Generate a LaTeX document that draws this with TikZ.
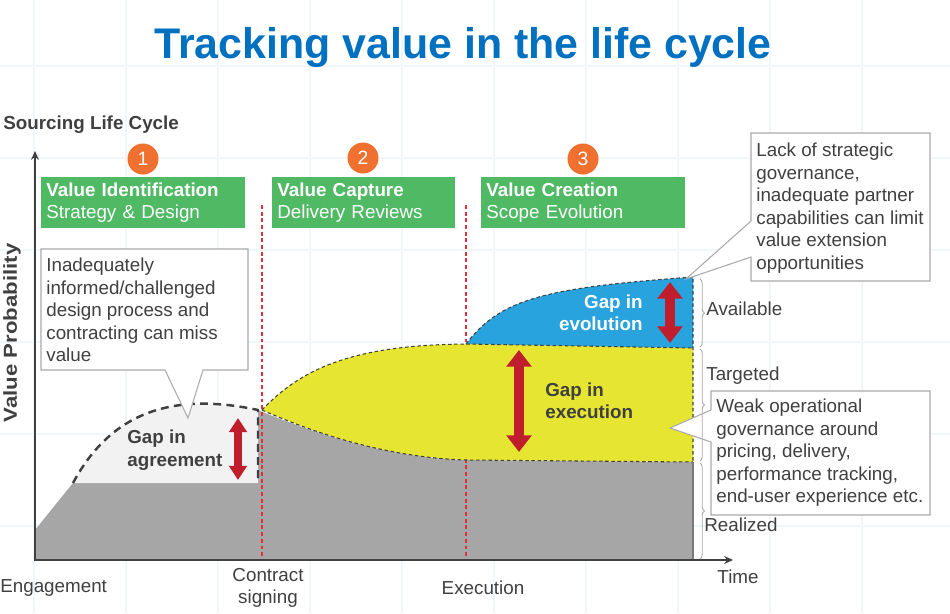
\documentclass[tikz,border=0pt]{standalone}
\usepackage{fontspec}
\setmainfont{Liberation Sans}
\usepackage{xcolor}
\usepackage{tikz}
\usetikzlibrary{arrows.meta}
\usetikzlibrary{decorations.pathreplacing}
\usetikzlibrary{positioning}

\definecolor{titleblue}{RGB}{0,112,192}
\definecolor{textgray}{RGB}{64,64,64}
\definecolor{gridblue}{RGB}{243,246,249}
\definecolor{phasegreen}{RGB}{80,185,100}
\definecolor{dotorange}{RGB}{240,112,48}
\definecolor{realgray}{RGB}{166,166,166}
\definecolor{misslight}{RGB}{242,242,242}
\definecolor{execyellow}{RGB}{230,230,50}
\definecolor{evolblue}{RGB}{41,163,221}
\definecolor{gapred}{RGB}{192,30,45}
\definecolor{milered}{RGB}{220,50,60}
\definecolor{boxgray}{RGB}{170,170,170}

\tikzset{
  txt/.style={font=\fontsize{10.7}{12.8}\selectfont, text=textgray, inner sep=0pt, align=left},
  gaplabel/.style={font=\fontsize{10.7}{12.8}\selectfont\bfseries, text=textgray, inner sep=0pt, align=left},
  phase/.style={fill=phasegreen, text=white, font=\fontsize{10.7}{12.8}\selectfont, align=left,
    inner xsep=0.1cm, inner ysep=0pt, minimum height=1.02cm, anchor=north west},
  numdot/.style={circle, fill=dotorange, text=white, font=\fontsize{11}{12}\selectfont,
    minimum size=0.62cm, inner sep=0pt},
  callout/.style={fill=white, draw=boxgray, line width=0.6pt, line join=miter},
  milestone/.style={draw=milered, line width=0.6pt, dash pattern=on 2.2pt off 1.6pt},
  edge/.style={draw=textgray, line width=0.6pt, dash pattern=on 2pt off 1.5pt},
  bigarrow/.style={draw=gapred, line width=5.6pt, arrows={Triangle[width=14pt,length=9.5pt]-Triangle[width=14pt,length=9.5pt]}},
  smallarrow/.style={draw=gapred, line width=4pt, arrows={Triangle[width=9.8pt,length=8pt]-Triangle[width=9.8pt,length=8pt]}},
  valuebrace/.style={draw=boxgray, line width=0.5pt, decorate, decoration={brace, amplitude=2.5pt}}
}

\begin{document}
\begin{tikzpicture}[x=0.02cm,y=-0.02cm]
  \useasboundingbox (0,0) rectangle (950,613);
  \fill[white] (0,0) rectangle (950,613);
  % faint background grid
  \foreach \gx in {34,126,...,954} \draw[gridblue,line width=1pt] (\gx,0) -- (\gx,613);
  \foreach \gy in {66,158,...,618} \draw[gridblue,line width=1pt] (0,\gy) -- (950,\gy);

  \node[font=\fontsize{24.4}{28}\selectfont\bfseries, text=titleblue] (title) at (463,48) {Tracking value in the life cycle};
  \node[gaplabel, anchor=west] (cycle) at (3,125) {Sourcing Life Cycle};
  \node[gaplabel, rotate=90] (probability) at (12,333) {\scalebox{1.18}[1]{Value Probability}};

  % value areas
  \fill[realgray] (35,560) -- (35,530) -- (73,483) -- (258,483) -- (258,410)
    .. controls (330,440) and (400,458) .. (466,460) -- (693,462) -- (693,560) -- cycle;
  \fill[misslight] (73,483) .. controls (108,418) and (165,390) .. (258,410) -- (258,483) -- cycle;
  \draw[milestone] (262,205) -- (262,560);
  \draw[milestone] (466,205) -- (466,560);
  \fill[execyellow] (262,410) .. controls (300,370) and (350,345) .. (466,344) -- (693,348)
    -- (693,462) -- (466,460) .. controls (400,458) and (330,440) .. (262,410) -- cycle;
  \fill[evolblue] (466,344) .. controls (500,300) and (540,288) .. (693,277) -- (693,348) -- cycle;
  \draw[edge] (262,410) .. controls (300,370) and (350,345) .. (466,344) -- (693,348);
  \draw[edge] (262,410) .. controls (330,440) and (400,458) .. (466,460) -- (693,462);
  \draw[edge] (466,344) .. controls (500,300) and (540,288) .. (693,277) -- (693,462);
  \draw[textgray, line width=1.4pt, dash pattern=on 4.5pt off 3pt] (73,483) .. controls (108,418) and (165,390) .. (258,410) -- (258,483);
  \draw[textgray!70, line width=0.8pt] (693,462) -- (693,560);

  % axes
  \draw[textgray, line width=1.4pt, -{Stealth[length=5pt,width=4.5pt]}] (35,561) -- (35,151);
  \draw[textgray, line width=1.4pt, -{Stealth[length=5pt,width=4.5pt]}] (34,560) -- (733,560);

  % phases
  \node[numdot] (dot1) at (143,159) {1};
  \node[numdot] (dot2) at (363,158) {2};
  \node[numdot] (dot3) at (583,159) {3};
  \node[phase, minimum width=4.08cm, text width=3.88cm] (identify) at (41,177) {\textbf{Value Identification}\\Strategy \& Design};
  \node[phase, minimum width=3.66cm, text width=3.46cm] (capture) at (272,177) {\textbf{Value Capture}\\Delivery Reviews};
  \node[phase, minimum width=4.08cm, text width=3.88cm] (create) at (481,177) {\textbf{Value Creation}\\Scope Evolution};

  % gaps
  \draw[smallarrow] (238,418) -- (238,480);
  \draw[bigarrow] (519,350) -- (519,452);
  \draw[bigarrow] (670,282) -- (670,343);
  \node[gaplabel, anchor=west] (agreegap) at (127,450) {Gap in\\agreement};
  \node[gaplabel, anchor=west] (execgap) at (545,401) {Gap in\\execution};
  \node[gaplabel, anchor=east, align=right, text=white] (evolgap) at (643,313) {Gap in\\evolution};

  % callouts
  \filldraw[callout] (41,249) -- (248,249) -- (248,370) -- (203,370) -- (188,418) -- (165,370) -- (41,370) -- cycle;
  \node[txt, anchor=north west] (missnote) at (46,258) {Inadequately\\informed/challenged\\design process and\\contracting can miss\\value};
  \filldraw[callout] (751,133) -- (930,133) -- (930,281) -- (751,281) -- (751,257) -- (686,279) -- (751,221) -- cycle;
  \node[txt, anchor=north west] (limitnote) at (756,143) {Lack of strategic\\governance,\\inadequate partner\\capabilities can limit\\value extension\\opportunities};
  \filldraw[callout] (711,391) -- (930,391) -- (930,515) -- (711,515) -- (711,442) -- (670,428) -- (711,410) -- cycle;
  \node[txt, anchor=north west] (weaknote) at (716,399) {Weak operational\\governance around\\pricing, delivery,\\performance tracking,\\end-user experience etc.};

  % value levels
  \draw[valuebrace] (700,279) -- (700,347);
  \draw[valuebrace] (700,349) -- (700,461);
  \draw[valuebrace] (700,463) -- (700,559);
  \node[txt, anchor=west] (available) at (706,309) {Available};
  \node[txt, anchor=west] (targeted) at (706,376) {Targeted};
  \node[txt, anchor=west] (realized) at (704,525) {Realized};

  % time labels
  \node[txt, anchor=west] (engagement) at (0,588) {Engagement};
  \node[txt, align=center] (signing) at (268,588) {Contract\\signing};
  \node[txt] (execution) at (483,588) {Execution};
  \node[txt] (time) at (738,577) {Time};
\end{tikzpicture}
\end{document}
